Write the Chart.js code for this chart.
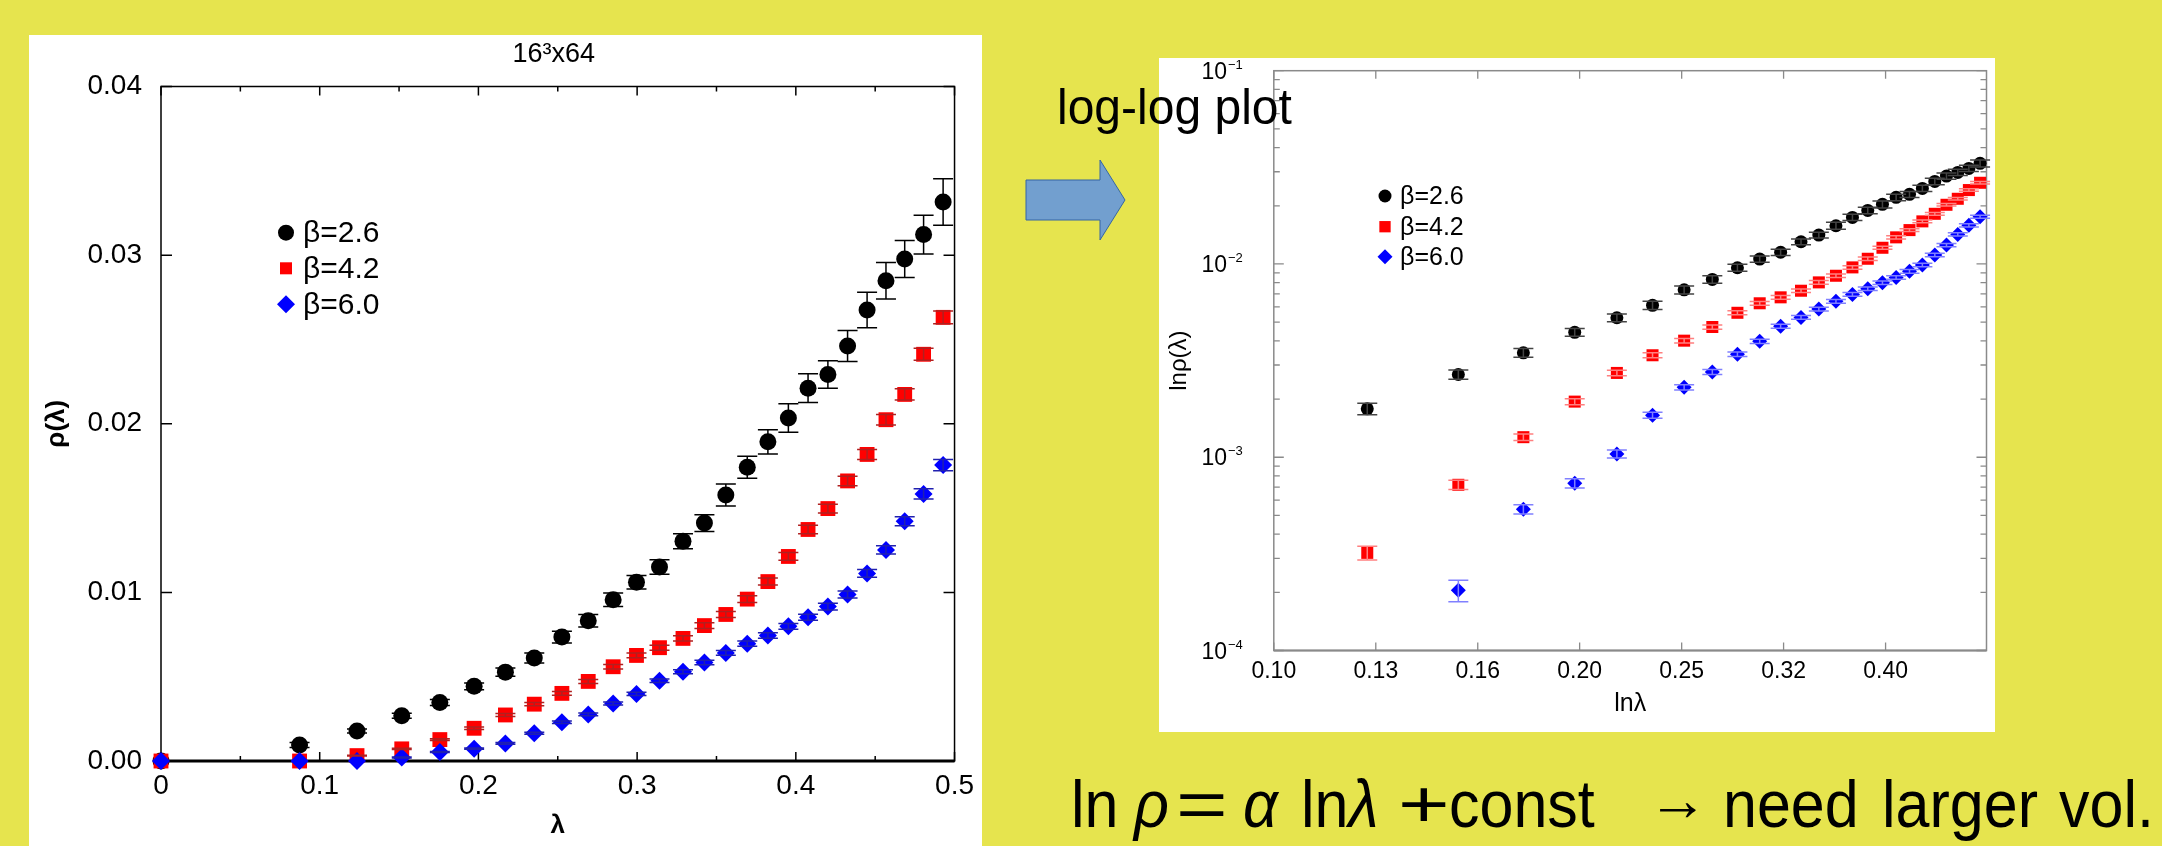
<!DOCTYPE html>
<html>
<head>
<meta charset="utf-8">
<script src="https://cdn.jsdelivr.net/npm/chart.js@4.4.1/dist/chart.umd.min.js"></script>
<style>
html,body{margin:0;padding:0;}
body{width:2162px;height:846px;background:#e6e44e;position:relative;overflow:hidden;font-family:'Liberation Sans',Arial,Helvetica,sans-serif;}
.panel{position:absolute;background:#fff;}
#p1{left:29px;top:35px;width:953px;height:811px;}
#p2{left:1159px;top:58px;width:836px;height:674px;}
canvas{display:block;}
.txt{position:absolute;white-space:nowrap;line-height:1;color:#000;}
.f span{position:absolute;top:0;white-space:nowrap;line-height:1;}
</style>
</head>
<body>
<div class="panel" id="p1"><canvas id="c1" width="953" height="811"></canvas></div>
<div class="panel" id="p2"><canvas id="c2" width="836" height="674"></canvas></div>
<svg style="position:absolute;left:0;top:0" width="2162" height="846">
  <polygon points="1026,180 1100,180 1100,160 1125,200 1100,240 1100,220 1026,220" fill="#729fcf" stroke="#3465a4" stroke-width="1"/>
</svg>
<div class="txt" style="left:1057px;top:84px;font-size:48px;transform:scaleY(1.06);transform-origin:0 40.6px;">log-log plot</div>
<div class="f" style="position:absolute;left:0;top:776px;width:2162px;height:61px;font-size:61px;transform:scaleY(1.1);transform-origin:0 51.6px;">
  <span style="left:1071px">ln</span>
  <span style="left:1134px;font-style:italic">ρ</span>
  <span style="left:1176px;transform:scaleX(1.45);transform-origin:0 0">=</span>
  <span style="left:1243px;font-style:italic">α</span>
  <span style="left:1301px">ln<i>λ</i></span>
  <span style="left:1398px;transform:scaleX(1.45);transform-origin:0 0">+</span>
  <span style="left:1449px">const</span>
  <span style="left:1723px">need</span>
  <span style="left:1882px">larger</span>
  <span style="left:2059px">vol.</span>
</div>
<div class="txt" style="left:1648px;top:770px;font-size:60px;">→</div>

<script>
// ---------------- data ----------------
const lambdaVals = [0, 0.0873, 0.1235, 0.1517, 0.1757, 0.1973, 0.2170, 0.2352, 0.2526, 0.2692, 0.2849, 0.2996, 0.3141, 0.3289, 0.3424, 0.3559, 0.3694, 0.3824, 0.3953, 0.4077, 0.4202, 0.4326, 0.4449, 0.4568, 0.4686, 0.4805, 0.4928];
const rhoBeta26 = [0, 0.00095, 0.00178, 0.00268, 0.00347, 0.00443, 0.00527, 0.00611, 0.00735, 0.00832, 0.00956, 0.01060, 0.01150, 0.01303, 0.01411, 0.01577, 0.01742, 0.01893, 0.02034, 0.02211, 0.02292, 0.02461, 0.02675, 0.02848, 0.02977, 0.03122, 0.03315];
const errBeta26 = [0, 0.00015, 0.00012, 0.00015, 0.00018, 0.0002, 0.00024, 0.0003, 0.00035, 0.00037, 0.0004, 0.0004, 0.00043, 0.00045, 0.0005, 0.00065, 0.00065, 0.00072, 0.00085, 0.00085, 0.00082, 0.00092, 0.00105, 0.00108, 0.0011, 0.00115, 0.00138];
const rhoBeta42 = [0, 0, 0.00032, 0.00072, 0.00127, 0.00194, 0.00273, 0.00337, 0.00401, 0.00472, 0.00559, 0.00626, 0.00672, 0.00727, 0.00803, 0.00869, 0.00960, 0.01064, 0.01213, 0.01373, 0.01497, 0.01661, 0.01818, 0.02024, 0.02174, 0.02412, 0.02631];
const errBeta42 = [0, 0, 0.000026, 0.00004, 0.00005, 0.00007, 0.00009, 0.0001, 0.00011, 0.00012, 0.00013, 0.00014, 0.00015, 0.00016, 0.00017, 0.00018, 0.0002, 0.00021, 0.00023, 0.00025, 0.00026, 0.00028, 0.0003, 0.00031, 0.00033, 0.00035, 0.00038];
const rhoBeta60 = [0, 0, 0, 0.000205, 0.000538, 0.000733, 0.00104, 0.00165, 0.00230, 0.00276, 0.00341, 0.00398, 0.00476, 0.00529, 0.00584, 0.00641, 0.00696, 0.00744, 0.00799, 0.00852, 0.00916, 0.00987, 0.01112, 0.01252, 0.01422, 0.01584, 0.01755];
const errBeta60 = [0, 0, 0, 0.000026, 0.00003, 0.00004, 0.00005, 0.00006, 0.00007, 0.00008, 0.00009, 0.0001, 0.00011, 0.00012, 0.00013, 0.00014, 0.00015, 0.00016, 0.00017, 0.00018, 0.0002, 0.00021, 0.00023, 0.00025, 0.00027, 0.0003, 0.00033];
const seriesLabels = ['β=2.6', 'β=4.2', 'β=6.0'];
const leftTitle = '16³x64';
const linXTicks = [0, 0.1, 0.2, 0.3, 0.4, 0.5];
const linXTickLabels = ['0', '0.1', '0.2', '0.3', '0.4', '0.5'];
const linXMinorTicks = [0.05, 0.15, 0.25, 0.35, 0.45];
const linYTicks = [0, 0.01, 0.02, 0.03, 0.04];
const linYTickLabels = ['0.00', '0.01', '0.02', '0.03', '0.04'];
const logXTicks = [0.1, 0.1259, 0.1585, 0.1995, 0.2512, 0.3162, 0.3981];
const logXTickLabels = ['0.10', '0.13', '0.16', '0.20', '0.25', '0.32', '0.40'];
const logYTicks = [1e-4, 1e-3, 1e-2, 1e-1];
const logYExponents = ['\u22124', '\u22123', '\u22122', '\u22121'];

// ---------------- helpers ----------------
const FAM = "'Liberation Sans', Arial, Helvetica, sans-serif";
Chart.defaults.font.family = FAM;
Chart.defaults.color = '#000';
const styles = ['circle', 'rect', 'rectRot'];
const colors = ['#000000', '#ff0000', '#0000ff'];

function drawMarker(ctx, style, x, y, r) {
  ctx.beginPath();
  if (style === 'circle') ctx.arc(x, y, r, 0, Math.PI * 2);
  else if (style === 'rect') { const s = r * Math.SQRT1_2; ctx.rect(x - s, y - s, 2 * s, 2 * s); }
  else { ctx.moveTo(x - r, y); ctx.lineTo(x, y - r); ctx.lineTo(x + r, y); ctx.lineTo(x, y + r); ctx.closePath(); }
  ctx.fill();
}

function makeDecor(cfg) {
  return {
    id: cfg.id,
    beforeDatasetsDraw(chart) {
      const ctx = chart.ctx, a = chart.chartArea, xs = chart.scales.x, ys = chart.scales.y;
      ctx.save();
      ctx.strokeStyle = cfg.tickColor; ctx.lineWidth = cfg.tickWidth;
      ctx.beginPath();
      cfg.xTicks.forEach(([v, len]) => {
        const p = xs.getPixelForValue(v);
        ctx.moveTo(p, a.bottom); ctx.lineTo(p, a.bottom - len);
        ctx.moveTo(p, a.top); ctx.lineTo(p, a.top + len);
      });
      cfg.yTicks.forEach(([v, len]) => {
        const p = ys.getPixelForValue(v);
        ctx.moveTo(a.left, p); ctx.lineTo(a.left + len, p);
        ctx.moveTo(a.right, p); ctx.lineTo(a.right - len, p);
      });
      ctx.stroke();
      ctx.strokeStyle = cfg.frameColor; ctx.lineWidth = cfg.frameWidth;
      ctx.strokeRect(a.left, a.top, a.right - a.left, a.bottom - a.top);
      ctx.lineWidth = cfg.bottomWidth;
      ctx.beginPath(); ctx.moveTo(a.left, a.bottom); ctx.lineTo(a.right, a.bottom); ctx.stroke();
      ctx.restore();
    },
    afterDatasetsDraw(chart) {
      const ctx = chart.ctx, xs = chart.scales.x, ys = chart.scales.y;
      ctx.save();
      ctx.lineWidth = cfg.errWidth;
      chart.data.datasets.forEach((ds, di) => {
        const errs = cfg.errors[di];
        ctx.strokeStyle = cfg.errColors[di];
        ds.data.forEach((p, j) => {
          if (p.y === null || p.y === undefined) return;
          const e = errs[j]; if (!e) return;
          const px = xs.getPixelForValue(p.x);
          const lo = p.y - e;
          const yT = ys.getPixelForValue(p.y + e);
          const yB = (cfg.log && lo <= 0) ? ys.bottom : ys.getPixelForValue(lo);
          ctx.beginPath();
          ctx.moveTo(px, yT); ctx.lineTo(px, yB);
          ctx.moveTo(px - cfg.cap, yT); ctx.lineTo(px + cfg.cap, yT);
          ctx.moveTo(px - cfg.cap, yB); ctx.lineTo(px + cfg.cap, yB);
          ctx.stroke();
        });
      });
      ctx.restore();
    },
    afterDraw(chart) {
      const ctx = chart.ctx, a = chart.chartArea, ys = chart.scales.y;
      ctx.save();
      const L = cfg.legend;
      seriesLabels.forEach((lab, i) => {
        ctx.fillStyle = colors[i];
        drawMarker(ctx, styles[i], L.x, L.ys[i], L.radii[i]);
        ctx.fillStyle = '#000';
        ctx.font = L.font;
        ctx.textAlign = 'left'; ctx.textBaseline = 'middle';
        ctx.fillText(lab, L.textX, L.ys[i] + 1);
      });
      if (cfg.title) {
        ctx.fillStyle = '#000'; ctx.font = cfg.title.font;
        ctx.textAlign = 'center'; ctx.textBaseline = 'middle';
        ctx.fillText(cfg.title.text, (a.left + a.right) / 2 + cfg.title.dx, cfg.title.y);
      }
      if (cfg.expLabels) {
        ctx.fillStyle = '#000'; ctx.textBaseline = 'alphabetic';
        logYTicks.forEach((v, i) => {
          const p = ys.getPixelForValue(v);
          ctx.font = '23px ' + FAM; ctx.textAlign = 'right';
          ctx.fillText('10', cfg.expLabels.x, p + 8);
          ctx.font = '13px ' + FAM; ctx.textAlign = 'left';
          ctx.fillText(logYExponents[i], cfg.expLabels.x + 1, p - 2);
        });
      }
      ctx.restore();
    }
  };
}

// ---------------- left chart (linear) ----------------
const radiiL = [8.5, 10.5, 9];
const linSets = [rhoBeta26, rhoBeta42, rhoBeta60].map((arr, i) => ({
  label: seriesLabels[i],
  data: lambdaVals.map((x, j) => ({ x: x, y: arr[j] })),
  pointStyle: styles[i], pointRadius: radiiL[i], pointHoverRadius: radiiL[i],
  backgroundColor: colors[i], borderColor: colors[i], borderWidth: 0,
  showLine: false, clip: false, order: 3 - i
}));

new Chart(document.getElementById('c1'), {
  type: 'scatter',
  data: { datasets: linSets },
  options: {
    responsive: false, animation: false, events: [],
    layout: { padding: { left: 0, right: 19, top: 51.5, bottom: 0 } },
    plugins: { legend: { display: false }, tooltip: { enabled: false }, title: { display: false } },
    scales: {
      x: {
        type: 'linear', min: 0, max: 0.5,
        grid: { display: false, drawTicks: false }, border: { display: false },
        afterBuildTicks: s => { s.ticks = linXTicks.map(v => ({ value: v })); },
        afterFit: s => { s.height = 85; },
        ticks: { padding: 8, color: '#000', font: { size: 28 }, maxRotation: 0, autoSkip: false,
                 callback: (v, i) => linXTickLabels[i] },
        title: { display: true, text: 'λ', color: '#000', font: { size: 26, weight: 'bold' }, padding: { top: 0, bottom: 5 } }
      },
      y: {
        type: 'linear', min: 0, max: 0.04,
        grid: { display: false, drawTicks: false }, border: { display: false },
        afterBuildTicks: s => { s.ticks = linYTicks.map(v => ({ value: v })); },
        afterFit: s => { s.width = 132; },
        ticks: { padding: 19, color: '#000', font: { size: 28 }, autoSkip: false,
                 callback: (v, i) => linYTickLabels[i] },
        title: { display: true, text: 'ρ(λ)', color: '#000', font: { size: 26, weight: 'bold' }, padding: { top: 12, bottom: 0 } }
      }
    }
  },
  plugins: [makeDecor({
    id: 'decorL',
    tickColor: '#000', tickWidth: 1.5, frameColor: '#000', frameWidth: 1.5, bottomWidth: 3,
    xTicks: linXTicks.map(v => [v, 9]).concat(linXMinorTicks.map(v => [v, 5])),
    yTicks: linYTicks.map(v => [v, 11]),
    errors: [errBeta26, errBeta42, errBeta60],
    errColors: ['#000000', '#b02020', '#2020b0'], errWidth: 1.5, cap: 10, log: false,
    legend: { x: 257, textX: 274, ys: [197.7, 233.3, 269.3], radii: [8, 8.5, 9], font: '30px ' + FAM },
    title: { text: leftTitle, font: '27px ' + FAM, y: 20, dx: -4 }
  })]
});

// ---------------- right chart (log-log) ----------------
const radiiR = [6.5, 8.5, 7.5];
const logSets = [rhoBeta26, rhoBeta42, rhoBeta60].map((arr, i) => ({
  label: seriesLabels[i],
  data: lambdaVals.map((x, j) => ({ x: x, y: (arr[j] > 0 && x >= logXTicks[0]) ? arr[j] : null })),
  pointStyle: styles[i], pointRadius: radiiR[i], pointHoverRadius: radiiR[i],
  backgroundColor: colors[i], borderColor: colors[i], borderWidth: 0,
  showLine: false, clip: false, order: 3 - i
}));

const logYMinor = [];
for (let d = 1e-4; d < 0.1; d *= 10) for (let m = 2; m <= 9; m++) logYMinor.push(d * m);

new Chart(document.getElementById('c2'), {
  type: 'scatter',
  data: { datasets: logSets },
  options: {
    responsive: false, animation: false, events: [],
    layout: { padding: { left: 0, right: 4.7, top: 12.7, bottom: 0 } },
    plugins: { legend: { display: false }, tooltip: { enabled: false }, title: { display: false } },
    scales: {
      x: {
        type: 'logarithmic', min: 0.1, max: 0.5,
        grid: { display: false, drawTicks: false }, border: { display: false },
        afterBuildTicks: s => { s.ticks = logXTicks.map(v => ({ value: v })); },
        afterFit: s => { s.height = 81.5; },
        ticks: { padding: 7, color: '#000', font: { size: 23 }, maxRotation: 0, autoSkip: false,
                 callback: (v, i) => logXTickLabels[i] },
        title: { display: true, text: 'lnλ', color: '#000', font: { size: 25 }, padding: { top: 0, bottom: 13 } }
      },
      y: {
        type: 'logarithmic', min: 1e-4, max: 1e-1,
        grid: { display: false, drawTicks: false }, border: { display: false },
        afterBuildTicks: s => { s.ticks = logYTicks.map(v => ({ value: v })); },
        afterFit: s => { s.width = 114.8; },
        ticks: { display: false },
        title: { display: true, text: 'lnρ(λ)', color: '#000', font: { size: 24 }, padding: { top: 6, bottom: 0 } }
      }
    }
  },
  plugins: [makeDecor({
    id: 'decorR',
    tickColor: '#8a8a8a', tickWidth: 1.3, frameColor: '#8a8a8a', frameWidth: 1.5, bottomWidth: 2,
    xTicks: logXTicks.map(v => [v, 8]),
    yTicks: logYTicks.map(v => [v, 10]).concat(logYMinor.map(v => [v, 6])),
    errors: [errBeta26, errBeta42, errBeta60],
    errColors: ['#444444', '#ff8080', '#8080ff'], errWidth: 1.5, cap: 10, log: true,
    legend: { x: 226, textX: 241, ys: [138, 168.7, 198.7], radii: [6.5, 8, 7.5], font: '25px ' + FAM },
    expLabels: { x: 68 }
  })]
});
</script>
</body>
</html>
